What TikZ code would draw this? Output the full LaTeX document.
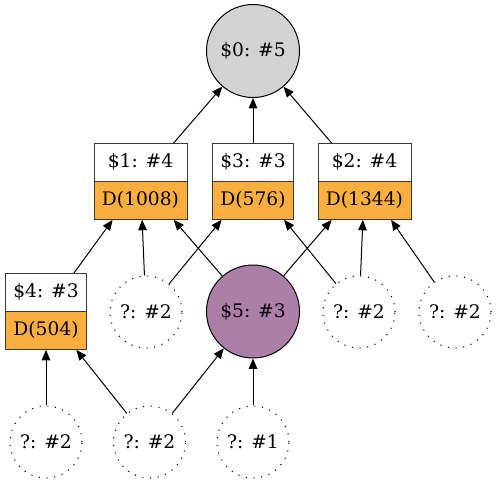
\documentclass[tikz,border=0pt]{standalone}
\usepackage{fontspec}
\setmainfont{DejaVu Serif}
\usetikzlibrary{shapes.multipart,arrows.meta}
\definecolor{tgorange}{HTML}{FCAF3E}
\definecolor{tgplum}{HTML}{AD7FA8}
\definecolor{boxline}{HTML}{3A3A3A}
\begin{document}
\begin{tikzpicture}[x=0.75pt,y=-0.75pt,
  every node/.style={font=\fontsize{14}{16}\selectfont},
  bigcirc/.style={circle,draw=black,line width=0.75pt,minimum size=69.75pt,inner sep=0pt},
  qcirc/.style={circle,draw=black,line width=0.8pt,dash pattern=on 0.8pt off 5pt,minimum size=54pt,inner sep=0pt},
  rec/.style={rectangle split,rectangle split parts=2,draw=boxline,line width=0.75pt,
    rectangle split part fill={white,tgorange},inner ysep=6.8pt,inner xsep=2pt},
  edge/.style={line width=0.75pt,-{Triangle[length=7.8pt,width=6.4pt]}}]
\useasboundingbox (0,0) rectangle (496,483);
\newcommand{\sr}{\rule[-3.4pt]{0pt}{13.8pt}}
\node[bigcirc,fill={rgb,255:red,211;green,211;blue,211}] (n0) at (253,51) {\$0: \#5};
\node[rec,minimum width=69.75pt] (n1) at (140.5,181.5) {\sr\$1: \#4\nodepart{two}\sr D(1008)};
\node[rec,minimum width=60.75pt] (n3) at (253,181.5) {\sr\$3: \#3\nodepart{two}\sr D(576)};
\node[rec,minimum width=69.75pt] (n2) at (364.5,181.5) {\sr\$2: \#4\nodepart{two}\sr D(1344)};
\node[rec,minimum width=60.75pt] (n4) at (46,311.5) {\sr\$4: \#3\nodepart{two}\sr D(504)};
\node[qcirc] (q1) at (146,312) {?: \#2};
\node[bigcirc,fill=tgplum] (n5) at (253,311.5) {\$5: \#3};
\node[qcirc] (q2) at (359,312) {?: \#2};
\node[qcirc] (q3) at (455,312) {?: \#2};
\node[qcirc] (b1) at (46,442) {?: \#2};
\node[qcirc] (b2) at (149.5,442) {?: \#2};
\node[qcirc] (b3) at (253,442) {?: \#1};
\draw[edge] (n1) -- (n0);
\draw[edge] (n3) -- (n0);
\draw[edge] (n2) -- (n0);
\draw[edge] (n4) -- (n1);
\draw[edge] (q1) -- (n1);
\draw[edge] (n5) -- (n1);
\draw[edge] (q1) -- (n3);
\draw[edge] (q2) -- (n3);
\draw[edge] (n5) -- (n2);
\draw[edge] (q2) -- (n2);
\draw[edge] (q3) -- (n2);
\draw[edge] (b1) -- (n4);
\draw[edge] (b2) -- (n4);
\draw[edge] (b2) -- (n5);
\draw[edge] (b3) -- (n5);
\end{tikzpicture}
\end{document}
